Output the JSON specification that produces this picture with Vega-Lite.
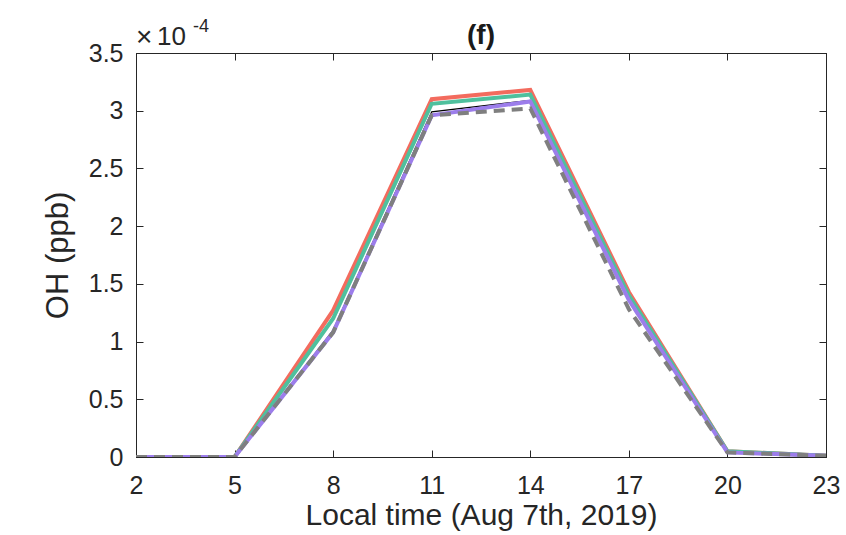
{
  "$schema": "https://vega.github.io/schema/vega-lite/v6.json",
  "width": 690,
  "height": 404,
  "autosize": "none",
  "padding": {"left": 136, "top": 53, "right": 20, "bottom": 78},
  "background": "white",
  "config": {
    "view": {"stroke": "#262626", "strokeWidth": 1},
    "font": "Liberation Sans",
    "axis": {"grid": false, "domainColor": "#262626", "tickColor": "#262626", "labelColor": "#262626", "titleColor": "#262626", "labelFont": "Liberation Sans", "titleFont": "Liberation Sans", "labelFontSize": 25, "titleFontSize": 30, "titleFontWeight": "normal", "tickSize": -7, "labelFlush": false}
  },
  "datasets": {
    "oh": [
      {"t": 2, "s": "black", "v": 0.0}, {"t": 5, "s": "black", "v": 0.0}, {"t": 8, "s": "black", "v": 1.10e-4}, {"t": 11, "s": "black", "v": 2.99e-4}, {"t": 14, "s": "black", "v": 3.09e-4}, {"t": 17, "s": "black", "v": 1.36e-4}, {"t": 20, "s": "black", "v": 0.04e-4}, {"t": 23, "s": "black", "v": 0.01e-4},
      {"t": 2, "s": "red", "v": 0.0}, {"t": 5, "s": "red", "v": 0.0}, {"t": 8, "s": "red", "v": 1.27e-4}, {"t": 11, "s": "red", "v": 3.10e-4}, {"t": 14, "s": "red", "v": 3.18e-4}, {"t": 17, "s": "red", "v": 1.43e-4}, {"t": 20, "s": "red", "v": 0.05e-4}, {"t": 23, "s": "red", "v": 0.01e-4},
      {"t": 2, "s": "teal", "v": 0.0}, {"t": 5, "s": "teal", "v": 0.0}, {"t": 8, "s": "teal", "v": 1.20e-4}, {"t": 11, "s": "teal", "v": 3.06e-4}, {"t": 14, "s": "teal", "v": 3.14e-4}, {"t": 17, "s": "teal", "v": 1.40e-4}, {"t": 20, "s": "teal", "v": 0.05e-4}, {"t": 23, "s": "teal", "v": 0.01e-4},
      {"t": 2, "s": "purple", "v": 0.0}, {"t": 5, "s": "purple", "v": 0.0}, {"t": 8, "s": "purple", "v": 1.08e-4}, {"t": 11, "s": "purple", "v": 2.96e-4}, {"t": 14, "s": "purple", "v": 3.08e-4}, {"t": 17, "s": "purple", "v": 1.36e-4}, {"t": 20, "s": "purple", "v": 0.04e-4}, {"t": 23, "s": "purple", "v": 0.01e-4},
      {"t": 2, "s": "gray", "v": 0.0}, {"t": 5, "s": "gray", "v": 0.0}, {"t": 8, "s": "gray", "v": 1.08e-4}, {"t": 11, "s": "gray", "v": 2.96e-4}, {"t": 14, "s": "gray", "v": 3.02e-4}, {"t": 17, "s": "gray", "v": 1.28e-4}, {"t": 20, "s": "gray", "v": 0.04e-4}, {"t": 23, "s": "gray", "v": 0.01e-4}
    ],
    "mult": [{"t": 2, "v": 3.5e-4, "x": "×", "a": "10", "b": "-4"}],
    "ttl": [{"t": 12.5, "v": 3.5e-4, "label": "(f)"}]
  },
  "encoding": {
    "x": {"field": "t", "type": "quantitative", "scale": {"domain": [2, 23], "nice": false, "zero": false}, "axis": null},
    "y": {"field": "v", "type": "quantitative", "scale": {"domain": [0, 3.5e-4], "nice": false}, "axis": null}
  },
  "layer": [
    {
      "data": {"name": "oh"},
      "transform": [{"filter": "datum.s === 'black'"}],
      "mark": {"type": "line", "color": "#000000", "strokeWidth": 1.2, "clip": true},
      "encoding": {
        "x": {"field": "t", "type": "quantitative", "scale": {"domain": [2, 23], "nice": false, "zero": false}, "axis": {"orient": "bottom", "values": [2, 5, 8, 11, 14, 17, 20, 23], "labelPadding": 23, "title": "Local time (Aug 7th, 2019)", "titlePadding": 2}},
        "y": {"field": "v", "type": "quantitative", "scale": {"domain": [0, 3.5e-4], "nice": false}, "axis": {"orient": "left", "values": [0, 0.5e-4, 1e-4, 1.5e-4, 2e-4, 2.5e-4, 3e-4, 3.5e-4], "labelPadding": 20, "labelExpr": "format(datum.value * 10000, '~g')", "title": "OH (ppb)", "titleFontSize": 31, "titlePadding": 14}}
      }
    },
    {
      "data": {"name": "oh"},
      "transform": [{"filter": "datum.s === 'red'"}],
      "mark": {"type": "line", "color": "#F36B5E", "strokeWidth": 4, "clip": true},
      "encoding": {
        "x": {"field": "t", "type": "quantitative", "axis": {"orient": "top", "values": [2, 5, 8, 11, 14, 17, 20, 23], "labels": false, "title": null}},
        "y": {"field": "v", "type": "quantitative", "axis": {"orient": "right", "values": [0, 0.5e-4, 1e-4, 1.5e-4, 2e-4, 2.5e-4, 3e-4, 3.5e-4], "labels": false, "title": null}}
      }
    },
    {
      "data": {"name": "oh"},
      "transform": [{"filter": "datum.s === 'teal'"}],
      "mark": {"type": "line", "color": "#4FC09D", "strokeWidth": 4, "clip": true}
    },
    {
      "data": {"name": "oh"},
      "transform": [{"filter": "datum.s === 'purple'"}],
      "mark": {"type": "line", "color": "#9C7DEB", "strokeWidth": 4, "clip": true}
    },
    {
      "data": {"name": "oh"},
      "transform": [{"filter": "datum.s === 'gray'"}],
      "mark": {"type": "line", "color": "#7F7F7F", "strokeWidth": 4, "strokeDash": [11, 7], "clip": true}
    },
    {
      "data": {"name": "mult"},
      "mark": {"type": "text", "align": "left", "baseline": "alphabetic", "dx": 0, "dy": -7, "fontSize": 28, "font": "Liberation Sans", "color": "#262626"},
      "encoding": {"text": {"field": "x"}}
    },
    {
      "data": {"name": "mult"},
      "mark": {"type": "text", "align": "left", "baseline": "alphabetic", "dx": 21, "dy": -8, "fontSize": 26, "font": "Liberation Sans", "color": "#262626"},
      "encoding": {"text": {"field": "a"}}
    },
    {
      "data": {"name": "mult"},
      "mark": {"type": "text", "align": "left", "baseline": "alphabetic", "dx": 57, "dy": -21, "fontSize": 18, "font": "Liberation Sans", "color": "#262626"},
      "encoding": {"text": {"field": "b"}}
    },
    {
      "data": {"name": "ttl"},
      "mark": {"type": "text", "align": "center", "baseline": "alphabetic", "dy": -9, "fontSize": 28, "fontWeight": "bold", "font": "Liberation Sans", "color": "#1a1a1a"},
      "encoding": {"text": {"field": "label"}}
    }
  ],
  "resolve": {"axis": {"x": "independent", "y": "independent"}}
}
